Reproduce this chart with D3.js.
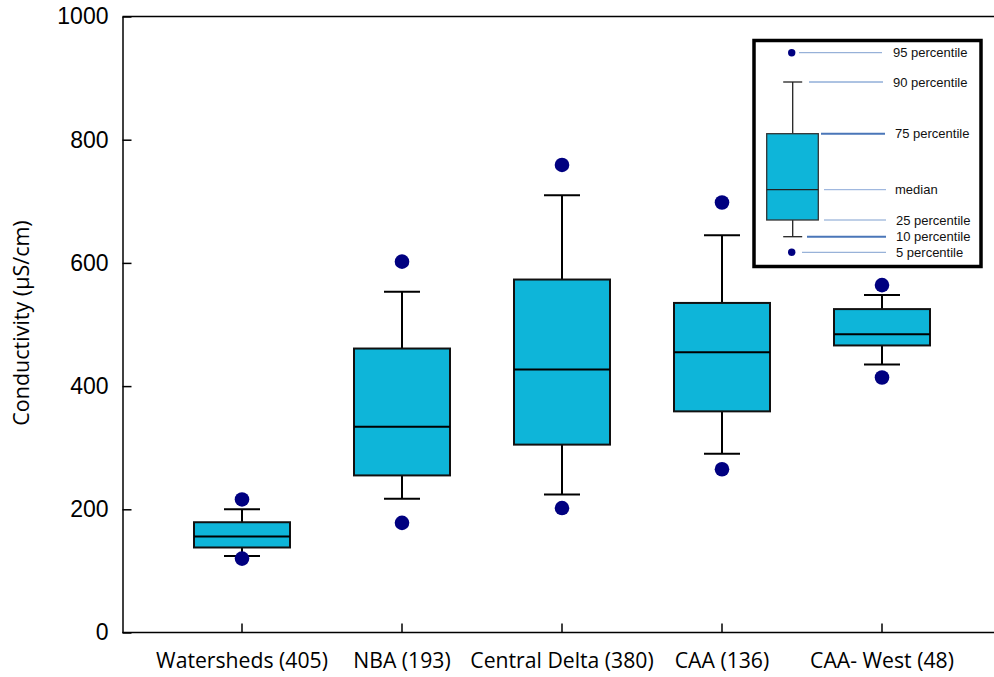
<!DOCTYPE html>
<html><head><meta charset="utf-8">
<script src="https://cdn.jsdelivr.net/npm/d3@7"></script>
<style>body{margin:0;background:#fff}</style>
</head><body>
<svg id="c" width="994" height="677"></svg>
<script>
const categories = ["Watersheds (405)", "NBA (193)", "Central Delta (380)", "CAA (136)", "CAA- West (48)"];
const p5  = [120, 178, 202, 265, 414];
const p10 = [124, 217, 224, 290, 435];
const p25 = [138, 255, 305, 359, 466];
const p50 = [156, 334, 427, 455, 484];
const p75 = [179, 461, 573, 535, 525];
const p90 = [200, 553, 710, 645, 548];
const p95 = [216, 602, 759, 698, 564];
const yTicks = [0, 200, 400, 600, 800, 1000];
const legendLabels = ["95 percentile","90 percentile","75 percentile","median","25 percentile","10 percentile","5 percentile"];

const svg = d3.select("#c");
const L = 122.5, R = 994, T = 16.5, B = 632.5;
const y = d3.scaleLinear().domain([0, 1000]).range([B, T]);
const x = d3.scaleBand().domain(categories).range([162, 962]).padding(0);
const fill = "#0eb5d9", navy = "#000080";
const boxW = 96, capW = 36;

// axes
const yAxis = d3.axisLeft(y).tickValues(yTicks).tickFormat(d3.format("d")).tickSizeInner(-9).tickSizeOuter(0).tickPadding(14);
const gy = svg.append("g").attr("transform", `translate(${L},0)`).call(yAxis);
gy.select(".domain").attr("stroke", "#000").attr("stroke-width", 1.5);
gy.selectAll(".tick line").attr("stroke", "#000").attr("stroke-width", 1.5);
gy.selectAll(".tick text").attr("font-family", "Liberation Sans, Arial, sans-serif").attr("font-size", 23).attr("fill", "#000");

const xAxis = d3.axisBottom(x).tickSizeInner(-9).tickSizeOuter(0).tickPadding(20);
const gx = svg.append("g").attr("transform", `translate(0,${B})`).call(xAxis);
gx.select(".domain").attr("d", `M${L},0H${R}`).attr("stroke", "#000").attr("stroke-width", 1.5);
gx.selectAll(".tick line").attr("stroke", "#000").attr("stroke-width", 1.5);
gx.selectAll(".tick text").attr("font-family", "Open Sans, sans-serif").attr("font-size", 21.2).attr("fill", "#000");

// top frame line
svg.append("line").attr("x1", L).attr("x2", R).attr("y1", T).attr("y2", T).attr("stroke", "#000").attr("stroke-width", 1.5);

// y title
svg.append("text").attr("transform", `translate(28.5,323) rotate(-90)`)
  .attr("text-anchor", "middle").attr("font-family", "Open Sans, sans-serif").attr("font-size", 21.5).text("Conductivity (µS/cm)");

// boxes
const g = svg.append("g");
categories.forEach((c, i) => {
  const cx = x(c) + x.bandwidth() / 2;
  const gg = g.append("g");
  gg.append("line").attr("x1", cx).attr("x2", cx).attr("y1", y(p90[i])).attr("y2", y(p75[i])).attr("stroke", "#000").attr("stroke-width", 2);
  gg.append("line").attr("x1", cx).attr("x2", cx).attr("y1", y(p25[i])).attr("y2", y(p10[i])).attr("stroke", "#000").attr("stroke-width", 2);
  [p90[i], p10[i]].forEach(v => gg.append("line").attr("x1", cx - capW/2).attr("x2", cx + capW/2).attr("y1", y(v)).attr("y2", y(v)).attr("stroke", "#000").attr("stroke-width", 2));
  gg.append("rect").attr("x", cx - boxW/2).attr("width", boxW).attr("y", y(p75[i])).attr("height", y(p25[i]) - y(p75[i]))
    .attr("fill", fill).attr("stroke", "#111").attr("stroke-width", 2);
  gg.append("line").attr("x1", cx - boxW/2).attr("x2", cx + boxW/2).attr("y1", y(p50[i])).attr("y2", y(p50[i])).attr("stroke", "#000").attr("stroke-width", 2);
  [p95[i], p5[i]].forEach(v => gg.append("circle").attr("cx", cx).attr("cy", y(v)).attr("r", 7.3).attr("fill", navy));
});

// legend
const lg = svg.append("g");
lg.append("rect").attr("x", 754).attr("y", 40.5).attr("width", 227).attr("height", 226).attr("fill", "#fff").attr("stroke", "#000").attr("stroke-width", 3.5);
const lcx = 792.7, lbw = 51.6;
const ly = { p95: 52.7, p90: 82, p75: 133.7, p50: 189.7, p25: 220, p10: 236.7, p5: 252.3 };
lg.append("line").attr("x1", lcx).attr("x2", lcx).attr("y1", ly.p90).attr("y2", ly.p75).attr("stroke", "#222").attr("stroke-width", 1.3);
lg.append("line").attr("x1", lcx).attr("x2", lcx).attr("y1", ly.p25).attr("y2", ly.p10).attr("stroke", "#222").attr("stroke-width", 1.3);
[ly.p90, ly.p10].forEach(v => lg.append("line").attr("x1", lcx - 9.5).attr("x2", lcx + 9.5).attr("y1", v).attr("y2", v).attr("stroke", "#222").attr("stroke-width", 1.3));
lg.append("rect").attr("x", 766.7).attr("width", lbw).attr("y", ly.p75).attr("height", ly.p25 - ly.p75).attr("fill", fill).attr("stroke", "#333").attr("stroke-width", 1.3);
lg.append("line").attr("x1", 766.7).attr("x2", 766.7 + lbw).attr("y1", ly.p50).attr("y2", ly.p50).attr("stroke", "#222").attr("stroke-width", 1.3);
[ly.p95, ly.p5].forEach(v => lg.append("circle").attr("cx", lcx - 1).attr("cy", v).attr("r", 3.7).attr("fill", navy));
const legY = [ly.p95, ly.p90, ly.p75, ly.p50, ly.p25, ly.p10, ly.p5];
const lineX1 = [799, 809, 821, 824, 824, 807, 802];
const lineX2 = [882, 883, 885, 886, 886, 886, 886];
const lineW = [1, 1, 2, 1, 1, 2, 1];
const lineC = ["#7f9fcf", "#5a86c5", "#4a76b8", "#8aa8d8", "#7f9fcf", "#4a76b8", "#7f9fcf"];
const textX = [893, 893, 895, 895, 896, 896, 896];
legendLabels.forEach((t, i) => {
  lg.append("line").attr("x1", lineX1[i]).attr("x2", lineX2[i]).attr("y1", legY[i]).attr("y2", legY[i]).attr("stroke", lineC[i]).attr("stroke-width", lineW[i]);
  lg.append("text").attr("x", textX[i]).attr("y", legY[i] + 4.6).attr("font-family", "Liberation Sans, Arial, sans-serif").attr("font-size", 13).attr("fill", "#111").text(t);
});
</script>
</body></html>
